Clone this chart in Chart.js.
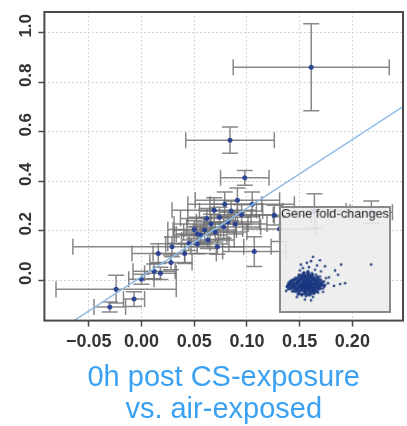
<!DOCTYPE html>
<html>
<head>
<meta charset="utf-8">
<script src="https://cdn.jsdelivr.net/npm/chart.js@4"></script>
<style>
    body { margin: 0; background: #ffffff; }
    #wrap { position: relative; width: 407px; height: 426px; }
    #mainChart { position: absolute; left: 0; top: 0; }
    #insetChart {
        position: absolute;
        left: 279px;
        top: 206px;
        border: 2px solid #8a8a8a;
        background: rgba(236, 236, 236, 0.88);
    }
</style>
</head>
<body>
<div id="wrap">
    <canvas id="mainChart" width="407" height="426"></canvas>
    <canvas id="insetChart" width="112" height="107"></canvas>
</div>
<script>
// gene-level log fold changes with their spread (x: 0h post CS vs air, y: comparison)
const geneX = [0.161, 0.084, 0.098, -0.024, -0.030, -0.007, 0.000, 0.012, 0.018, 0.028,
    0.016, 0.029, 0.041, 0.053, 0.056, 0.060, 0.066, 0.069, 0.074, 0.079,
    0.072, 0.082, 0.091, 0.089, 0.105, 0.107, 0.126, 0.131, 0.053, 0.063,
    0.045, 0.085, 0.062, 0.164, 0.218, 0.095, 0.050, 0.070, 0.078];
const geneY = [0.861, 0.566, 0.414, -0.036, -0.108, -0.076, 0.004, 0.036, 0.028, 0.072,
    0.108, 0.135, 0.108, 0.147, 0.183, 0.203, 0.227, 0.283, 0.255, 0.307,
    0.135, 0.235, 0.323, 0.227, 0.307, 0.116, 0.263, 0.207, 0.187, 0.163,
    0.150, 0.280, 0.250, 0.280, 0.275, 0.265, 0.205, 0.195, 0.215];
const geneXErr = [0.074, 0.042, 0.023, 0.057, 0.015, 0.010, 0.012, 0.020, 0.015, 0.020,
    0.025, 0.094, 0.030, 0.030, 0.025, 0.030, 0.035, 0.040, 0.030, 0.035,
    0.025, 0.030, 0.040, 0.030, 0.040, 0.030, 0.035, 0.035, 0.020, 0.025,
    0.020, 0.030, 0.025, 0.030, 0.020, 0.030, 0.025, 0.030, 0.035];
const geneYErr = [0.176, 0.053, 0.030, 0.056, 0.020, 0.030, 0.020, 0.030, 0.025, 0.030,
    0.040, 0.040, 0.040, 0.040, 0.040, 0.050, 0.040, 0.050, 0.040, 0.050,
    0.030, 0.040, 0.050, 0.040, 0.050, 0.060, 0.040, 0.050, 0.030, 0.035,
    0.030, 0.040, 0.040, 0.070, 0.045, 0.040, 0.035, 0.040, 0.045];

// reference line
const lineX = [-0.1, 0.26];
const lineY = [-0.263, 0.735];

const xTicks = [-0.05, 0.00, 0.05, 0.10, 0.15, 0.20];
const yTicks = [0.0, 0.2, 0.4, 0.6, 0.8, 1.0];
const axisTitle = ['0h post CS-exposure', 'vs. air-exposed'];

// inset: all gene fold-changes (arbitrary inset units 0-100)
const insetX = [10, 12, 13, 14, 15, 16, 16, 17, 18, 18, 19, 19, 20, 20, 21, 21, 22, 22, 23, 23,
    24, 24, 25, 25, 26, 26, 27, 27, 28, 28, 29, 29, 30, 30, 31, 31, 32, 33, 33, 34,
    35, 36, 37, 38, 39, 40, 8, 6, 4, 3, 7, 11, 9, 13, 14, 17, 19, 21, 23, 25,
    27, 29, 31, 33, 35, 18, 24, 30, 36, 41, 12, 5, 2, 15, 28, 38, 43, 20, 26,
    40, 56, 86, 50, 53, 60, 55, 49, 1, 44, 35, 28, 22, 32, 16, 26];
const insetY = [24, 28, 22, 30, 25, 20, 33, 27, 23, 36, 30, 19, 34, 22, 28, 17, 31, 20, 24, 37,
    33, 18, 29, 22, 35, 25, 20, 31, 27, 38, 23, 33, 28, 19, 31, 24, 27, 35, 21, 29,
    25, 32, 27, 22, 30, 26, 27, 23, 26, 21, 31, 18, 33, 15, 38, 14, 40, 13, 42, 14,
    40, 16, 38, 17, 36, 46, 47, 44, 42, 34, 12, 30, 24, 43, 12, 18, 28, 9, 8,
    48, 50, 50, 43, 38, 28, 27, 25, 19, 35, 55, 59, 52, 49, 50, 54];
// dense body of the cloud
const blobX = [14, 17, 20, 23, 26, 29,
    8, 11, 14, 17, 20, 23, 26, 29, 32,
    5, 8, 11, 14, 17, 20, 23, 26, 29, 32, 35,
    3, 6, 9, 12, 15, 18, 21, 24, 27, 30, 33, 36, 39,
    4, 7, 10, 13, 16, 19, 22, 25, 28, 31, 34, 37,
    7, 10, 13, 16, 19, 22, 25, 28, 31, 34,
    11, 14, 17, 20, 23, 26, 29, 32,
    15, 18, 21, 24, 27,
    19, 23];
const blobY = [16, 15, 16, 15, 16, 17,
    19, 20, 19, 20, 19, 20, 19, 20, 19,
    22, 23, 22, 23, 22, 23, 22, 23, 22, 23, 22,
    25, 26, 25, 26, 25, 26, 25, 26, 25, 26, 25, 26, 25,
    28, 29, 28, 29, 28, 29, 28, 29, 28, 29, 28, 29,
    31, 32, 31, 32, 31, 32, 31, 32, 31, 32,
    34, 35, 34, 35, 34, 35, 34, 35,
    37, 38, 37, 38, 37,
    40, 41];
const coreX = [17, 19, 21, 23, 25, 18, 20, 22, 24, 21];
const coreY = [26, 27, 26, 27, 26, 24, 24, 25, 24, 28];

const errorBarPlugin = {
    id: 'errorBars',
    beforeDatasetsDraw(chart) {
        const ctx = chart.ctx;
        const xs = chart.scales.x;
        const ys = chart.scales.y;
        const area = chart.chartArea;
        const cap = 8;
        ctx.save();
        ctx.beginPath();
        ctx.rect(area.left, area.top, area.right - area.left, area.bottom - area.top);
        ctx.clip();
        ctx.strokeStyle = 'rgba(115, 115, 115, 0.85)';
        ctx.lineWidth = 1.5;
        for (let i = 0; i < geneX.length; i++) {
            const px = xs.getPixelForValue(geneX[i]);
            const py = ys.getPixelForValue(geneY[i]);
            const x1 = xs.getPixelForValue(geneX[i] - geneXErr[i]);
            const x2 = xs.getPixelForValue(geneX[i] + geneXErr[i]);
            const y1 = ys.getPixelForValue(geneY[i] - geneYErr[i]);
            const y2 = ys.getPixelForValue(geneY[i] + geneYErr[i]);
            ctx.beginPath();
            ctx.moveTo(x1, py); ctx.lineTo(x2, py);
            ctx.moveTo(x1, py - cap); ctx.lineTo(x1, py + cap);
            ctx.moveTo(x2, py - cap); ctx.lineTo(x2, py + cap);
            ctx.moveTo(px, y1); ctx.lineTo(px, y2);
            ctx.moveTo(px - cap, y1); ctx.lineTo(px + cap, y1);
            ctx.moveTo(px - cap, y2); ctx.lineTo(px + cap, y2);
            ctx.stroke();
        }
        ctx.restore();
    },
    afterDatasetsDraw(chart) {
        // frame round the plot area
        const ctx = chart.ctx;
        const area = chart.chartArea;
        ctx.save();
        ctx.strokeStyle = '#4a4a4a';
        ctx.lineWidth = 2;
        ctx.strokeRect(area.left, area.top, area.right - area.left, area.bottom - area.top);
        ctx.restore();
    }
};

function createMainChart() {
    const ctx = document.getElementById('mainChart').getContext('2d');
    new Chart(ctx, {
        type: 'scatter',
        data: {
            datasets: [
                {
                    type: 'line',
                    data: lineX.map((x, i) => ({ x: x, y: lineY[i] })),
                    borderColor: '#8fbde6',
                    borderWidth: 1.5,
                    pointRadius: 0,
                    fill: false
                },
                {
                    data: geneX.map((x, i) => ({ x: x, y: geneY[i] })),
                    backgroundColor: 'rgba(35, 60, 150, 0.9)',
                    borderWidth: 0,
                    pointRadius: 2.5
                }
            ]
        },
        options: {
            responsive: false,
            animation: false,
            devicePixelRatio: 1,
            layout: { padding: { left: 18, top: 12, right: 0, bottom: 0 } },
            plugins: {
                legend: { display: false },
                tooltip: { enabled: false }
            },
            scales: {
                x: {
                    type: 'linear',
                    min: -0.092,
                    max: 0.248,
                    afterBuildTicks: axis => { axis.ticks = xTicks.map(v => ({ value: v })); },
                    ticks: {
                        color: '#333333',
                        font: { family: 'Liberation Sans, Arial, sans-serif', size: 18, weight: 'bold' },
                        padding: 5,
                        maxRotation: 0,
                        callback: v => v.toFixed(2).replace('-', '\u2212')
                    },
                    grid: {
                        color: '#d6d6d6',
                        lineWidth: 1,
                        tickLength: 6,
                        tickColor: '#4a4a4a',
                        tickWidth: 1.5,
                        tickBorderDash: []
                    },
                    border: { display: false, dash: [2, 2] },
                    title: {
                        display: true,
                        text: axisTitle,
                        color: '#3aa1f2',
                        font: { family: 'Liberation Sans, Arial, sans-serif', size: 29, lineHeight: 1.1 },
                        padding: { top: 4, bottom: 0 }
                    }
                },
                y: {
                    type: 'linear',
                    min: -0.163,
                    max: 1.084,
                    afterBuildTicks: axis => { axis.ticks = yTicks.map(v => ({ value: v })); },
                    ticks: {
                        color: '#333333',
                        font: { family: 'Liberation Sans, Arial, sans-serif', size: 17, weight: 'bold' },
                        padding: 0,
                        minRotation: 90,
                        maxRotation: 90,
                        crossAlign: 'center',
                        labelOffset: -7,
                        callback: v => v.toFixed(1)
                    },
                    grid: {
                        color: '#d6d6d6',
                        lineWidth: 1,
                        tickLength: 6,
                        tickColor: '#4a4a4a',
                        tickWidth: 1.5,
                        tickBorderDash: []
                    },
                    border: { display: false, dash: [2, 2] }
                }
            }
        },
        plugins: [errorBarPlugin]
    });
}

function createInsetChart() {
    const ctx = document.getElementById('insetChart').getContext('2d');
    new Chart(ctx, {
        type: 'scatter',
        data: {
            datasets: [
                {
                    data: blobX.map((x, i) => ({ x: x, y: blobY[i] })),
                    backgroundColor: 'rgba(22, 52, 125, 0.9)',
                    borderWidth: 0,
                    pointRadius: 2
                },
                {
                    data: insetX.map((x, i) => ({ x: x, y: insetY[i] })),
                    backgroundColor: 'rgba(18, 45, 115, 0.85)',
                    borderWidth: 0,
                    pointRadius: 1.4
                },
                {
                    data: coreX.map((x, i) => ({ x: x, y: coreY[i] })),
                    backgroundColor: 'rgba(70, 140, 225, 0.95)',
                    borderWidth: 0,
                    pointRadius: 2.2
                }
            ]
        },
        options: {
            responsive: false,
            animation: false,
            devicePixelRatio: 1,
            layout: { padding: 0 },
            plugins: {
                legend: { display: false },
                tooltip: { enabled: false },
                title: {
                    display: true,
                    text: 'Gene fold-changes',
                    color: '#222222',
                    font: { family: 'Liberation Sans, Arial, sans-serif', size: 13.5, weight: 'normal', lineHeight: 1 },
                    padding: { top: 0, bottom: 1 }
                }
            },
            scales: {
                x: { display: false, min: 0, max: 100 },
                y: { display: false, min: 0, max: 100 }
            }
        }
    });
}

createMainChart();
createInsetChart();
</script>
</body>
</html>
